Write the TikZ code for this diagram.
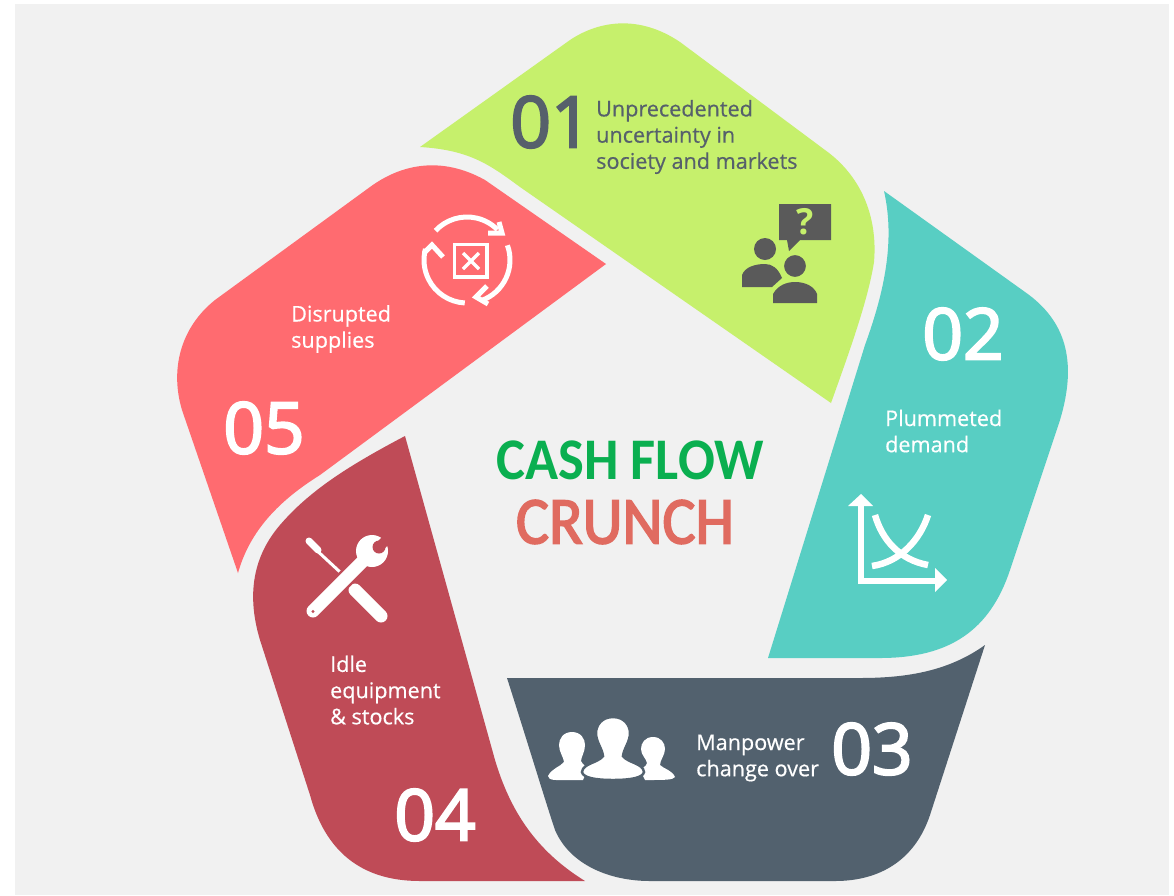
\documentclass[tikz,border=0pt]{standalone}
\usepackage{fontspec}
\setmainfont{Open Sans}
\newfontfamily\numfont[FakeBold=3]{Open Sans}
\newfontfamily\labfont[FakeBold=0.5]{Open Sans}
\newfontfamily\titlefont[FakeStretch=0.925]{Carlito}
\newfontfamily\crunchfont[FakeBold=2.5,FakeStretch=0.925]{Carlito}
\definecolor{bgc}{HTML}{F1F1F1}
\definecolor{lime}{HTML}{C6F06C}
\definecolor{teal2}{HTML}{58CEC3}
\definecolor{slate}{HTML}{52616E}
\definecolor{wine}{HTML}{BF4B57}
\definecolor{coral}{HTML}{FF6B70}
\definecolor{greytxt}{HTML}{56606B}
\definecolor{titleg}{HTML}{0AAF50}
\definecolor{titler}{HTML}{E06B60}
\definecolor{icong}{HTML}{5A5A5A}
\tikzset{x=1pt,y=-1pt,
 numw/.style={text=white,font=\numfont\fontsize{71}{71}\selectfont,inner sep=0,anchor=center},
 lab/.style={text=white,font=\labfont\fontsize{21.6}{26.2}\selectfont,inner sep=0,anchor=west,align=left},
 wl/.style={draw=white,line width=5pt},
 ic/.style={draw=white,line width=6.5pt}}
\begin{document}
\begin{tikzpicture}
\useasboundingbox (0,0) rectangle (1174,895);
\fill[white] (0,0) rectangle (1174,895);
\fill[bgc] (15,4) rectangle (1169,895);
% 01
\fill[lime] (420,147) .. controls (470,150) and (490,165) .. (520,187) -- (831,403) .. controls (850,350) and (868,300) .. (874,262) .. controls (878,215) and (860,175) .. (825,150) -- (680,42) .. controls (640,15) and (600,20) .. (570,40) -- cycle;
% 02
\fill[teal2] (884,191) .. controls (895,240) and (885,290) .. (865,345) -- (768,658) -- (880,658) .. controls (950,658) and (990,630) .. (1010,570) -- (1060,420) .. controls (1078,360) and (1065,320) .. (1025,292) -- cycle;
% 03
\fill[slate] (985,645) .. controls (950,670) and (910,678) .. (860,678) -- (507,678) .. controls (530,750) and (545,800) .. (555,830) .. controls (570,865) and (610,881) .. (650,881) -- (835,881) .. controls (880,881) and (915,860) .. (930,815) -- cycle;
% 04
\fill[wine] (405,436) .. controls (350,465) and (310,490) .. (280,525) .. controls (250,560) and (248,600) .. (260,640) -- (310,795) .. controls (325,850) and (360,881) .. (420,881) -- (585,881) .. controls (535,850) and (510,810) .. (495,760) -- cycle;
% 05
\fill[coral] (606,264) -- (485,180) .. controls (440,155) and (400,165) .. (370,187) -- (215,300) .. controls (180,328) and (170,370) .. (182,410) -- (238,573) .. controls (250,530) and (280,500) .. (320,475) -- cycle;
% texts
\node[text=greytxt,font=\numfont\fontsize{71}{71}\selectfont,inner sep=0] (n1) at (551,122) {01};
\node[text=greytxt,font=\labfont\fontsize{21.6}{26.2}\selectfont,inner sep=0,anchor=west,align=left] (t1) at (596,137) {Unprecedented\\uncertainty in\\society and markets};
\node[numw] (n2) at (963,334) {02};
\node[lab] (t2) at (885,431) {Plummeted\\demand};
\node[numw] (n3) at (872,749) {03};
\node[lab] (t3) at (696,758) {Manpower\\change over};
\node[numw] (n4) at (435,815) {04};
\node[lab] (t4) at (330,690) {Idle\\equipment\\\& stocks};
\node[numw] (n5) at (264,428) {05};
\node[lab] (t5) at (291,329) {Disrupted\\supplies};
\node[text=titleg,font=\titlefont\bfseries\fontsize{59}{59}\selectfont,inner sep=0] (c1) at (630,460) {CASH FLOW};
\node[text=titler,font=\crunchfont\fontsize{67}{67}\selectfont,inner sep=0] (c2) at (625,522) {CRUNCH};
% icon 01
\fill[icong] (779,204) -- (831,204) -- (831,240) -- (800,240) -- (789,251) -- (787,240) -- (779,240) -- cycle;
\node[text=lime,font=\bfseries\fontsize{36}{36}\selectfont,inner sep=0] (q) at (805,222) {?};
\fill[icong] (765,249) circle (11);
\fill[icong] (742,287) -- (742,275) .. controls (745,267) and (755,264) .. (765,264) .. controls (772,264) and (778,268) .. (782,278) -- (772,287) -- cycle;
\fill[icong,draw=lime,line width=2pt] (795,266) circle (12);
\fill[icong] (773,303) -- (773,294) .. controls (778,285) and (787,282) .. (795,282) .. controls (805,282) and (814,286) .. (817,294) -- (817,303) -- cycle;
% icon 02
\draw[ic] (861,504) -- (861,581) -- (937,581);
\fill[white] (861,494) -- (873,506) -- (848,506) -- cycle;
\fill[white] (947,580) -- (935,568) -- (935,592) -- cycle;
\draw[ic] (875,515) .. controls (882,540) and (900,560) .. (928,565);
\draw[ic] (872,566) .. controls (900,562) and (920,540) .. (928,515);
% icon 03
\fill[white] (572,732) .. controls (581,732) and (585,739) .. (585,745) .. controls (585,752) and (581,757) .. (581,761) .. controls (583,765) and (586,766) .. (588,768) -- (583,780) -- (556,780) .. controls (550,780) and (548,778) .. (548,776) .. controls (552,768) and (560,767) .. (564,762) .. controls (564,758) and (559,752) .. (559,745) .. controls (559,739) and (563,732) .. (572,732) -- cycle;
\fill[white] (653,737) .. controls (661,737) and (665,743) .. (665,749) .. controls (665,755) and (660,760) .. (660,765) .. controls (664,769) and (672,770) .. (675,777) .. controls (673,780) and (665,780) .. (645,780) -- (640,770) .. controls (643,767) and (646,767) .. (647,763) .. controls (646,758) and (641,755) .. (641,749) .. controls (641,743) and (645,737) .. (653,737) -- cycle;
\fill[white,draw=slate,line width=2.5pt] (613,717) .. controls (625,717) and (630,726) .. (630,733) .. controls (630,742) and (624,748) .. (623,756) .. controls (628,763) and (643,763) .. (644,772) .. controls (643,778) and (630,780) .. (613,780) .. controls (596,780) and (583,778) .. (582,772) .. controls (583,763) and (598,763) .. (603,756) .. controls (602,748) and (596,742) .. (596,733) .. controls (596,726) and (601,717) .. (613,717) -- cycle;
% icon 04
\draw[white,line width=7pt,line cap=round] (309,541) -- (318,550);
\draw[white,line width=3pt] (312,546) -- (340,572);
\draw[white,line width=13pt,line cap=round] (355,590) -- (381,616);
\draw[wine,line width=18pt] (330,594) -- (368,556);
\draw[white,line width=13pt,line cap=round] (313,611) -- (368,556);
\fill[white] (372,551) circle (16);
\fill[wine] (379,547) circle (6.5);
\fill[wine] (375.5,543.5) -- (385,534) -- (392,541) -- (382.5,550.5) -- cycle;
\fill[wine] (313,611.5) circle (1.6);
% icon 05
\draw[white,line width=3.5pt] (454.5,244.5) rectangle (487,277);
\draw[white,line width=3.5pt] (463,253) -- (479,269) (479,253) -- (463,269);
\draw[wl] (467,260) ++(-137:43) arc (-137:-45:43);
\draw[wl] (467,260) ++(-20:43) arc (-20:70:43);
\draw[wl] (467,260) ++(93:43) arc (93:195:43);
\draw[wl,line join=miter] (499,222) -- (502,233) -- (488,233);
\draw[wl,line join=miter] (487,286) -- (476,297) -- (488,304);
\draw[wl,line join=miter] (424,253) -- (432,245) -- (443,257);
\end{tikzpicture}
\end{document}
